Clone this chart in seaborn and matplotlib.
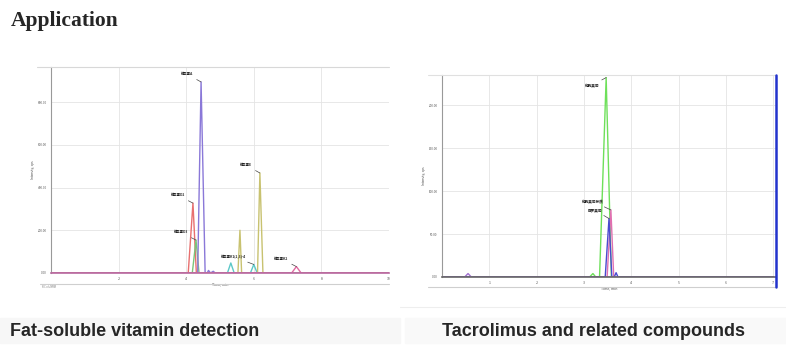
import matplotlib
matplotlib.use("Agg")
import matplotlib.pyplot as plt
import seaborn as sns
import pandas as pd
from matplotlib.lines import Line2D
from matplotlib.patches import Rectangle

sns.set_style("white")
plt.rcParams['font.family'] = ['Noto Sans CJK SC', 'DejaVu Sans']

# ---------------- data: fat-soluble vitamins (time, min / response) -------------
vd2_t = [0.0, 4.06, 4.20, 4.30, 10.0]
vd2_v = [0, 0, 327, 0, 0]
vd3_t = [0.0, 4.18, 4.29, 4.38, 10.0]
vd3_v = [0, 0, 154, 0, 0]
va_t = [0.0, 4.34, 4.44, 4.56, 4.62, 4.66, 4.72, 4.80, 4.86, 4.92, 10.0]
va_v = [0, 0, 894, 0, 0, 12, 0, 8, 0, 0, 0]
vk_t = [0.0, 5.22, 5.32, 5.42, 5.90, 6.00, 6.10, 10.0]
vk_v = [0, 0, 47, 0, 0, 40, 0, 0]
ve_t = [0.0, 5.53, 5.59, 5.64, 6.11, 6.18, 6.27, 10.0]
ve_v = [0, 0, 200, 0, 0, 468, 0, 0]
vx_t = [0.0, 7.12, 7.26, 7.40, 10.0]
vx_v = [0, 0, 30, 0, 0]

left_names = ["维生素D2", "维生素D3", "维生素A", "维生素K1", "维生素E", "维生素K2"]
left_colors = ["#e8706f", "#7cc47a", "#8a78d8", "#5cc8c8", "#c8c270", "#e06aa0"]
left_yticks = [0, 200, 400, 600, 800]
left_xticks = [0, 2, 4, 6, 8, 10]

# labels: (text, apex time, apex value)
left_labels = [
    ("维生素A", 4.44, 894),
    ("维生素D2", 4.20, 327),
    ("维生素D3", 4.29, 154),
    ("维生素E", 6.18, 468),
    ("维生素K1(2,3)-4", 6.00, 40),
    ("维生素K2", 7.26, 30),
]

# ---------------- data: tacrolimus -------------
tac_t = [0.0, 3.12, 3.19, 3.25, 3.33, 3.47, 3.58, 7.0]
tac_v = [0, 0, 4, 0, 0, 232, 0, 0]
asc_t = [0.0, 3.49, 3.57, 3.63, 7.0]
asc_v = [0, 0, 78, 0, 0]
sir_t = [0.0, 3.45, 3.53, 3.59, 3.64, 3.68, 3.72, 7.0]
sir_v = [0, 0, 68, 0, 0, 5, 0, 0]
imp_t = [0.0, 0.48, 0.55, 0.62, 7.0]
imp_v = [0, 0, 4, 0, 0]

right_names = ["他克莫司", "他克莫司杂质", "西罗莫司", "杂质"]
right_colors = ["#6ee05a", "#e070b0", "#4a4ad0", "#a070d0"]
right_yticks = [0, 50, 100, 150, 200]
right_xticks = [0, 1, 2, 3, 4, 5, 6, 7]

right_labels = [
    ("他克莫司", 3.47, 232, True),
    ("他克莫司杂质", 3.57, 78, False),
    ("西罗莫司", 3.53, 68, False),
]

W, H = 786, 350
fig = plt.figure(figsize=(W / 100, H / 100), dpi=100)
fig.patch.set_facecolor("white")


def fx(x):
    return x / W


def fy(y):
    return 1 - y / H


def hline(y, x0, x1, color, lw=0.8):
    fig.add_artist(Line2D([fx(x0), fx(x1)], [fy(y), fy(y)], color=color, lw=lw))


def long_df(pairs, names):
    rows = []
    for (t, v), n in zip(pairs, names):
        for a, b in zip(t, v):
            rows.append({"t": a, "v": b, "trace": n})
    return pd.DataFrame(rows)


def style_axes(ax, xticks, yticks, xlim, ylim, base_color):
    ax.set_xlim(*xlim)
    ax.set_ylim(*ylim)
    ax.set_xticks(xticks)
    ax.set_yticks(yticks)
    ax.set_xticklabels([str(x) if x > 0 else "" for x in xticks], fontsize=2.5, color="#555")
    ax.set_yticklabels([f"{y:.2f}" for y in yticks], fontsize=2.2, color="#555")
    ax.grid(True, color="#e4e4e4", lw=0.6)
    ax.set_axisbelow(True)
    for s in ["top", "right"]:
        ax.spines[s].set_visible(False)
    ax.spines["left"].set_color("#999")
    ax.spines["left"].set_linewidth(0.8)
    ax.spines["bottom"].set_color(base_color)
    ax.spines["bottom"].set_linewidth(1.2)
    ax.tick_params(axis="both", length=1.5, width=0.5, pad=1.5, color="#777")
    ax.minorticks_on()
    ax.tick_params(axis="x", which="minor", length=0)
    ax.tick_params(axis="y", which="minor", length=1.2, width=0.4, color="#999")
    ax.grid(False, which="minor")
    ax.set_xlabel("Time, min", fontsize=2.5, labelpad=1, color="#444")
    ax.set_ylabel("Intensity, cps", fontsize=2.2, labelpad=2, color="#444")


# ---------------- left panel ----------------
axL = fig.add_axes([fx(51), fy(273), fx(389 - 51), (273 - 67) / H])
dfL = long_df([(vd2_t, vd2_v), (vd3_t, vd3_v), (va_t, va_v), (vk_t, vk_v),
               (ve_t, ve_v), (vx_t, vx_v)], left_names)
sns.lineplot(data=dfL, x="t", y="v", hue="trace", hue_order=left_names,
             palette=left_colors, estimator=None, sort=False, legend=False,
             ax=axL, linewidth=1.0)
style_axes(axL, left_xticks, left_yticks, (0, 10), (0, 964), "#b868a0")
for txt, t, v in left_labels:
    axL.annotate(txt, xy=(t, v), xytext=(-5.5, 5.5), textcoords="offset points",
                 ha="right", va="center", fontsize=2.4, fontweight="bold", color="#222",
                 annotation_clip=False,
                 arrowprops=dict(arrowstyle="-", color="#444", lw=0.5,
                                 shrinkA=0, shrinkB=0))

# ---------------- right panel ----------------
axR = fig.add_axes([fx(442), fy(277), fx(776 - 442), (277 - 75) / H])
dfR = long_df([(tac_t, tac_v), (asc_t, asc_v), (sir_t, sir_v), (imp_t, imp_v)], right_names)
sns.lineplot(data=dfR, x="t", y="v", hue="trace", hue_order=right_names,
             palette=right_colors, estimator=None, sort=False, legend=False,
             ax=axR, linewidth=1.0)
style_axes(axR, right_xticks, right_yticks, (0, 7.06), (0, 235), "#666")
for txt, t, v, above in right_labels:
    dy = -5.5 if above else 6.0
    axR.annotate(txt, xy=(t, v), xytext=(-5.0, dy), textcoords="offset points",
                 ha="right", va="center", fontsize=2.6, fontweight="bold", color="#222",
                 annotation_clip=False,
                 arrowprops=dict(arrowstyle="-", color="#444", lw=0.5,
                                 shrinkA=0, shrinkB=0))

# ---------------- frame lines ----------------
hline(67, 37, 389, "#d8d8d8")
hline(284, 40, 389, "#cfcfcf")
hline(75, 428, 776, "#e0e0e0")
hline(287, 428, 776, "#cfcfcf")
hline(307, 400, 786, "#eeeeee")
fig.add_artist(Line2D([fx(776), fx(776)], [fy(75), fy(287)], color="#2233cc", lw=1.8))
fig.text(fx(42), fy(285), "XIC of +MRM", fontsize=1.8, color="#777", va="top")

# caption bands
fig.add_artist(Rectangle((fx(0), fy(343)), fx(400), (343 - 318) / H,
                         transform=fig.transFigure, color="#f7f7f7", zorder=-1))
fig.add_artist(Rectangle((fx(405), fy(343)), fx(381), (343 - 318) / H,
                         transform=fig.transFigure, color="#f9f9f9", zorder=-1))

# ---------------- texts ----------------
fig.text(fx(11), fy(21), "Application", fontsize=15.5, fontweight="bold",
         family="Liberation Serif", va="center", ha="left")
fig.text(fx(10), fy(331), "Fat-soluble vitamin detection", fontsize=13, fontweight="bold",
         family="Liberation Sans", va="center", ha="left")
fig.text(fx(442), fy(331), "Tacrolimus and related compounds", fontsize=13, fontweight="bold",
         family="Liberation Sans", va="center", ha="left")

fig.savefig("out.png", dpi=100)
